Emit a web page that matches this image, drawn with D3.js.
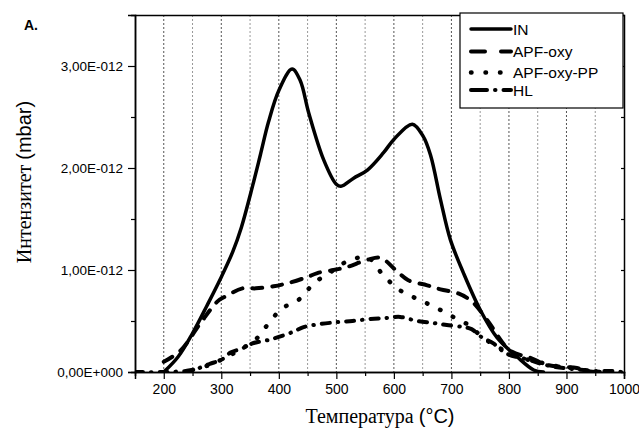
<!DOCTYPE html>
<html>
<head>
<meta charset="utf-8">
<script src="https://cdn.jsdelivr.net/npm/d3@7"></script>
<style>
  body { margin: 0; background: #fff; }
  svg { display: block; }
</style>
</head>
<body>
<div id="chart"></div>
<script>
// intensities are in units of 1E-012 mbar
const seriesNames = ["IN", "APF-oxy", "APF-oxy-PP", "HL"];

const inData = [[200,0],[225,0.15],[250,0.38],[275,0.65],[299,0.92],[320,1.18],[335,1.42],[351,1.75],
    [368,2.13],[382,2.45],[400,2.76],[423,2.97],[437,2.86],[452,2.54],[478,2.08],[500,1.84],[508,1.82],
    [530,1.90],[554,1.98],[582,2.15],[600,2.28],[632,2.43],[651,2.31],[664,2.12],[681,1.69],[698,1.30],
    [721,0.97],[750,0.61],[779,0.34],[814,0.15],[843,0.02],[860,0]];

const apfOxy = [[200,0.10],[229,0.21],[264,0.48],[293,0.69],[307,0.74],[337,0.82],[360,0.82],[391,0.84],
    [415,0.87],[449,0.93],[467,0.97],[495,1.00],[519,1.03],[554,1.10],[577,1.12],[603,1.00],[625,0.90],
    [658,0.85],[681,0.81],[712,0.77],[736,0.69],[762,0.51],[802,0.21],[837,0.14],[866,0.07],[894,0.05],
    [918,0.04],[935,0.01],[960,0]];

const apfOxyPP = [[250,0.02],[280,0.07],[300,0.12],[336,0.23],[360,0.32],[380,0.46],[405,0.62],[435,0.71],
    [461,0.87],[490,0.98],[521,1.09],[555,1.12],[580,0.96],[608,0.81],[639,0.72],[670,0.64],[703,0.54],
    [730,0.46],[750,0.36],[770,0.28],[796,0.20],[820,0.14],[850,0.10],[880,0.06],[910,0.04],[940,0.01],[960,0]];

const hlData = [[150,0],[200,0],[250,0.02],[280,0.08],[300,0.12],[316,0.19],[336,0.23],[354,0.28],[386,0.32],
    [423,0.39],[443,0.44],[472,0.47],[504,0.49],[528,0.50],[559,0.52],[588,0.53],[611,0.54],[640,0.50],
    [669,0.48],[692,0.46],[721,0.44],[735,0.42],[753,0.34],[773,0.28],[796,0.18],[834,0.12],[856,0.08],
    [880,0.05],[909,0.03],[930,0.02],[950,0.01],[980,0.01],[995,0]];

const xTicks = [200, 300, 400, 500, 600, 700, 800, 900, 1000];
const xMinorTicks = [250, 350, 450, 550, 650, 750, 850, 950];
const gridValues = [200, 250, 300, 350, 400, 450, 500, 550, 600, 650, 700, 750, 800, 850, 900, 950];
const yTicks = [0, 1, 2, 3];
const yTickLabels = ["0,00E+000", "1,00E-012", "2,00E-012", "3,00E-012"];
const yMinorTicks = [0.5, 1.5, 2.5];

const W = 639, H = 430;
const margin = { top: 15, right: 15, bottom: 58, left: 135 };
const width = W - margin.left - margin.right;
const height = H - margin.top - margin.bottom;

const svg = d3.select("#chart").append("svg")
    .attr("width", W).attr("height", H);

const g = svg.append("g")
    .attr("transform", `translate(${margin.left},${margin.top})`);

const x = d3.scaleLinear().domain([150, 1000]).range([0, width]);
const y = d3.scaleLinear().domain([0, 3.5]).range([height, 0]);

// vertical dotted grid
g.selectAll(".grid")
    .data(gridValues)
    .enter().append("line")
    .attr("class", "grid")
    .attr("x1", d => x(d)).attr("x2", d => x(d))
    .attr("y1", 0).attr("y2", height)
    .attr("stroke", (d, i) => i % 2 === 0 ? "#555" : "#999")
    .attr("stroke-width", 1)
    .attr("stroke-dasharray", "2,2");

g.append("clipPath").attr("id", "clip")
    .append("rect").attr("x", 0).attr("y", -5).attr("width", width).attr("height", height + 5);

const line = d3.line()
    .x(d => x(d[0]))
    .y(d => y(d[1]))
    .curve(d3.curveCatmullRom.alpha(0.5));

const styles = [
    { data: inData, dash: null, width: 3.5, cap: "round" },
    { data: apfOxy, dash: "10,10", width: 4, cap: "round" },
    { data: apfOxyPP, dash: "0.5,14", width: 4.5, cap: "round" },
    { data: hlData, dash: "8,8,0.5,8", width: 4, cap: "round" }
];

const lines = g.append("g").attr("clip-path", "url(#clip)");
styles.forEach(s => {
    lines.append("path")
        .datum(s.data)
        .attr("d", line)
        .attr("fill", "none")
        .attr("stroke", "#000")
        .attr("stroke-width", s.width)
        .attr("stroke-linecap", s.cap)
        .attr("stroke-linejoin", "round")
        .attr("stroke-dasharray", s.dash);
});

// axes
const xAxis = g.append("g")
    .attr("transform", `translate(0,${height})`)
    .call(d3.axisBottom(x).tickValues(xTicks).tickSize(7).tickPadding(5).tickFormat(d3.format("d")));
const xMinor = g.append("g")
    .attr("transform", `translate(0,${height})`)
    .call(d3.axisBottom(x).tickValues(xMinorTicks).tickSize(4).tickFormat(""));
const yAxis = g.append("g")
    .call(d3.axisLeft(y).tickValues(yTicks).tickSize(7).tickPadding(5)
        .tickFormat((d, i) => yTickLabels[i]));
const yMinor = g.append("g")
    .call(d3.axisLeft(y).tickValues(yMinorTicks).tickSize(4).tickFormat(""));
const yRight = g.append("g")
    .attr("transform", `translate(${width},0)`)
    .call(d3.axisLeft(y).tickValues([0.5, 1, 1.5, 2, 2.5, 3]).tickSize(3).tickFormat(""));
const xTop = g.append("g")
    .call(d3.axisBottom(x).tickValues([]).tickSize(0));

[xAxis, xMinor, yAxis, yMinor, yRight, xTop].forEach(a => {
    a.select(".domain").attr("stroke", "#000").attr("stroke-width", 1.5);
    a.selectAll(".tick line").attr("stroke", "#000").attr("stroke-width", 1.2);
    a.selectAll("text").attr("fill", "#000")
        .style("font-family", "'Liberation Sans', Arial, sans-serif")
        .style("font-size", "13.5px");
});
xAxis.selectAll("text").style("font-size", "14px");

// legend
const legend = svg.append("g").attr("transform", "translate(460,13)");
legend.append("rect")
    .attr("width", 163).attr("height", 95)
    .attr("fill", "#fff").attr("stroke", "#000").attr("stroke-width", 1.2);
const rowY = [16, 38.5, 59.5, 77];
seriesNames.forEach((name, i) => {
    const s = styles[i];
    legend.append("line")
        .attr("x1", 11).attr("x2", 51)
        .attr("y1", rowY[i]).attr("y2", rowY[i])
        .attr("stroke", "#000")
        .attr("stroke-width", s.width)
        .attr("stroke-linecap", s.cap)
        .attr("stroke-dasharray", i === 1 ? "14,16" : i === 2 ? "0.5,14" : i === 3 ? "16,8,0.5,8" : null);
    legend.append("text")
        .attr("x", 53).attr("y", rowY[i] + 5.5)
        .text(name)
        .style("font-family", "'Liberation Sans', Arial, sans-serif")
        .style("font-size", "15.5px");
});

// titles
svg.append("text")
    .attr("x", 24).attr("y", 30)
    .text("A.")
    .style("font-family", "'Liberation Sans', Arial, sans-serif")
    .style("font-weight", "bold")
    .style("font-size", "14px");

const yLabel = svg.append("text")
    .attr("transform", "translate(31,182) rotate(-90)")
    .attr("text-anchor", "middle")
    .style("font-size", "20px");
yLabel.append("tspan").style("font-family", "'Liberation Serif', 'Times New Roman', serif").text("Интензитет ");
yLabel.append("tspan").style("font-family", "'Liberation Sans', Arial, sans-serif").text("(mbar)");

const xLabel = svg.append("text")
    .attr("x", 380).attr("y", 423)
    .attr("text-anchor", "middle")
    .style("font-size", "20px");
xLabel.append("tspan").style("font-family", "'Liberation Serif', 'Times New Roman', serif").text("Температура ");
xLabel.append("tspan").style("font-family", "'Liberation Sans', Arial, sans-serif").text("(°C)");
</script>
</body>
</html>
